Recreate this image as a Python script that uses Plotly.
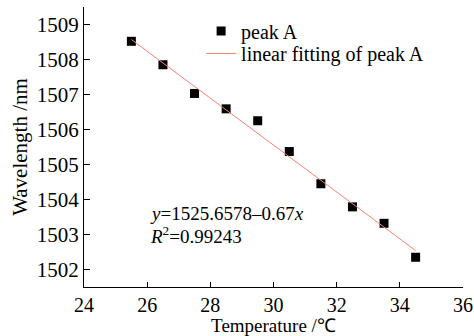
import plotly.graph_objects as go

temperature = [25.5, 26.5, 27.5, 28.5, 29.5, 30.5, 31.5, 32.5, 33.5, 34.5]
wavelength = [1508.52, 1507.85, 1507.03, 1506.59, 1506.25, 1505.37, 1504.45, 1503.79, 1503.32, 1502.35]
fit_x = [25.5, 34.5]
fit_y = [1508.57, 1502.54]
x_ticks = [24, 26, 28, 30, 32, 34, 36]
y_ticks = [1502, 1503, 1504, 1505, 1506, 1507, 1508, 1509]

FONT = "Liberation Serif"

fig = go.Figure()
fig.add_trace(go.Scatter(
    x=temperature, y=wavelength, mode="markers", name="peak A",
    marker=dict(symbol="square", size=9, color="black"), legend="legend",
))
fig.add_trace(go.Scatter(
    x=fit_x, y=fit_y, mode="lines", name="linear fitting of peak A",
    line=dict(color="#f4846f", width=1), legend="legend2",
))

leg_common = dict(x=0.309, xanchor="left", yanchor="middle",
                  bgcolor="rgba(0,0,0,0)", font=dict(family=FONT, size=20))

fig.update_layout(
    width=474, height=336,
    margin=dict(l=84, r=11, t=7, b=49, autoexpand=False),
    paper_bgcolor="white", plot_bgcolor="white",
    font=dict(family=FONT, size=20, color="black"),
    showlegend=True,
    legend=dict(y=0.914, **leg_common),
    legend2=dict(y=0.834, **leg_common),
    xaxis=dict(range=[24, 36], tickvals=x_ticks, ticks="inside", ticklen=5,
               tickcolor="black", showline=True, linecolor="black", linewidth=1.2,
               showgrid=False, zeroline=False, tickfont=dict(family=FONT, size=20),
               title=dict(text="Temperature /℃", standoff=4, font=dict(family=FONT, size=19))),
    yaxis=dict(range=[1501.5, 1509.5], tickvals=y_ticks, ticks="inside", ticklen=6,
               tickcolor="black", showline=True, linecolor="black", linewidth=1.2,
               showgrid=False, zeroline=False, tickfont=dict(family=FONT, size=21),
               title=dict(text="Wavelength /nm", standoff=3, font=dict(family=FONT, size=21))),
)

fig.add_annotation(x=0.169, y=0.262, xref="paper", yref="paper", xanchor="left",
                   yanchor="middle", showarrow=False,
                   text="<i>y</i>=1525.6578–0.67<i>x</i>", font=dict(family=FONT, size=19))
fig.add_annotation(x=0.169, y=0.187, xref="paper", yref="paper", xanchor="left",
                   yanchor="middle", showarrow=False,
                   text="<i>R</i><sup>2</sup>=0.99243", font=dict(family=FONT, size=19))

fig.write_html("out.html", config={"displayModeBar": False})
with open("out.html", encoding="utf-8") as f:
    html = f.read()
html = html.replace("<head>", "<head><style>html,body{margin:0;padding:0;}</style>", 1)
with open("out.html", "w", encoding="utf-8") as f:
    f.write(html)
